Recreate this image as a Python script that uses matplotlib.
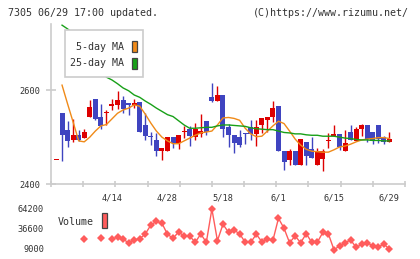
import numpy as np
import matplotlib
matplotlib.use("Agg")
import matplotlib.pyplot as plt
from matplotlib.patches import Rectangle

# ---------------- data ----------------
date_labels = ["4/14", "4/28", "5/18", "6/1", "6/15", "6/29"]
date_index = [10, 20, 30, 40, 50, 60]

opens = [2452, 2551, 2515, 2493, 2504, 2498, 2542, 2581, 2543, 2552,
         2566, 2569, 2579, 2573, 2569, 2574, 2526, 2502, 2494, 2470,
         2470, 2500, 2487, 2510, 2518, 2500, 2507, 2535, 2586, 2577,
         2591, 2522, 2505, 2500, 2508, 2522, 2507, 2526, 2537, 2543,
         2567, 2471, 2452, 2471, 2441, 2489, 2475, 2441, 2453, 2492,
         2502, 2507, 2471, 2511, 2491, 2517, 2525, 2511, 2525, 2500,
         2489]
highs = [2452, 2551, 2535, 2539, 2515, 2517, 2579, 2581, 2571, 2558,
         2582, 2598, 2587, 2573, 2581, 2574, 2551, 2512, 2509, 2477,
         2500, 2500, 2504, 2524, 2524, 2530, 2549, 2535, 2615, 2610,
         2591, 2529, 2505, 2516, 2508, 2537, 2537, 2541, 2543, 2578,
         2567, 2471, 2475, 2471, 2496, 2489, 2500, 2477, 2475, 2509,
         2526, 2507, 2516, 2525, 2521, 2528, 2525, 2511, 2525, 2503,
         2511]
lows = [2452, 2450, 2480, 2489, 2491, 2498, 2542, 2537, 2518, 2525,
        2558, 2560, 2551, 2548, 2562, 2512, 2494, 2484, 2460, 2451,
        2470, 2477, 2475, 2498, 2482, 2494, 2500, 2505, 2574, 2577,
        2501, 2480, 2466, 2480, 2486, 2494, 2482, 2509, 2512, 2532,
        2470, 2430, 2441, 2441, 2441, 2441, 2455, 2441, 2428, 2477,
        2502, 2472, 2471, 2494, 2491, 2503, 2489, 2486, 2487, 2485,
        2489]
closes = [2452, 2505, 2491, 2504, 2493, 2512, 2564, 2539, 2523, 2554,
          2571, 2579, 2560, 2569, 2573, 2512, 2502, 2500, 2470, 2477,
          2500, 2487, 2504, 2514, 2503, 2518, 2514, 2510, 2578, 2590,
          2517, 2505, 2487, 2484, 2506, 2507, 2522, 2541, 2543, 2562,
          2470, 2448, 2471, 2441, 2496, 2459, 2455, 2470, 2470, 2493,
          2507, 2478, 2487, 2494, 2517, 2525, 2496, 2491, 2496, 2489,
          2496]
ma5 = [np.nan, 2611, 2571, 2532, 2492, 2490, 2500, 2513, 2524, 2527,
       2539, 2551, 2558, 2562, 2569, 2566, 2549, 2530, 2513, 2500,
       2492, 2486, 2486, 2492, 2498, 2504, 2509, 2511, 2513, 2526,
       2541, 2542, 2540, 2536, 2519, 2507, 2501, 2502, 2513, 2524,
       2534, 2529, 2513, 2496, 2483, 2474, 2470, 2469, 2468, 2468,
       2473, 2479, 2481, 2485, 2490, 2494, 2496, 2497, 2499, 2499,
       2497]
ma25 = [np.nan, 2739, 2731, 2722, 2705, 2688, 2673, 2656, 2641, 2628,
        2622, 2614, 2605, 2599, 2590, 2585, 2577, 2570, 2562, 2555,
        2548, 2544, 2535, 2526, 2519, 2519, 2520, 2521, 2521, 2524,
        2526, 2526, 2525, 2524, 2523, 2520, 2518, 2517, 2516, 2516,
        2513, 2510, 2509, 2507, 2507, 2505, 2504, 2504, 2502, 2502,
        2502, 2500, 2498, 2497, 2495, 2494, 2494, 2493, 2493, 2492,
        2492]
volume = [np.nan, np.nan, np.nan, np.nan, np.nan, 23200, np.nan, np.nan, 24600, np.nan,
          22400, 25600, 22400, 17700, 21400, 23200, 29700, 42100, 47200, 44500,
          29300, 23800, 32500, 26900, 26900, 18200, 29700, 18200, 64200, 20500,
          43100, 32000, 34800, 30100, 18200, 18200, 29300, 19100, 22400, 21000,
          51400, 37600, 17700, 26900, 17700, 30100, 18200, 18200, 32000, 29700,
          8000, 13100, 17700, 21400, 11300, 15500, 17700, 13100, 11800, 15900,
          8600]
price_ticks = [2400, 2600]
volume_ticks = [9000, 36600, 64200]

# ---------------- style ----------------
RED = "#dd0000"
BLUE = "#3f44c0"
ORANGE = "#f08a18"
GREEN = "#18a018"
VOLC = "#ff5c5c"
GRID = "#cccccc"
TXT = "#333333"
MONO = "DejaVu Sans Mono"

W, H = 420, 259
fig = plt.figure(figsize=(W / 100, H / 100), dpi=100)


def rect(x0, y0, x1, y1):
    return [x0 / W, 1 - y1 / H, (x1 - x0) / W, (y1 - y0) / H]


ax = fig.add_axes(rect(51, 24, 405, 184))
axv = fig.add_axes(rect(51, 203, 405, 255))

x = np.arange(len(opens))
o = np.array(opens, float)
c = np.array(closes, float)
h = np.array(highs, float)
l = np.array(lows, float)
cols = np.where(c >= o, RED, BLUE)

ax.vlines(x, l, h, colors=cols, linewidth=1.0, zorder=2)
diff = np.abs(c - o)
bh = np.maximum(diff, 2.2)
bb = np.minimum(o, c) - (bh - diff) / 2
ax.bar(x, bh, bottom=bb, width=0.9, color=cols, linewidth=0, zorder=3)
ax.plot(x, ma5, color=ORANGE, lw=1.0, zorder=4)
ax.plot(x, ma25, color=GREEN, lw=1.0, zorder=4)

x0, x1 = -0.99, 62.8
ax.set_xlim(x0, x1)
ax.set_ylim(2400, 2741.5)
for s in ["top", "right"]:
    ax.spines[s].set_visible(False)
for s in ["left", "bottom"]:
    ax.spines[s].set_color(GRID)
    ax.spines[s].set_linewidth(1.2)
ax.set_facecolor("none")

ax.set_xticks(np.linspace(x0, x1, 12))
ax.set_xticklabels([])
ax.set_xticks(date_index, minor=True)
ax.set_xticklabels(date_labels, minor=True, fontsize=6.2, family=MONO, color=TXT)
ax.tick_params(axis="x", which="major", direction="inout", length=5, width=1.2, color=GRID)
ax.tick_params(axis="x", which="minor", length=0, pad=7)
ax.set_yticks(price_ticks)
ax.set_yticklabels([str(v) for v in price_ticks], fontsize=6.2, family=MONO, color=TXT)
ax.tick_params(axis="y", direction="inout", length=7, width=1.2, color=GRID, pad=4)

axv.plot(x, volume, color=VOLC, lw=1.0, marker="D", markersize=4.2,
         markeredgewidth=0, markerfacecolor=VOLC)
axv.set_xlim(x0, x1)
axv.set_ylim(720, 72480)
for s in axv.spines.values():
    s.set_visible(False)
axv.set_xticks([])
axv.set_yticks(volume_ticks)
axv.set_yticklabels([str(v) for v in volume_ticks], fontsize=6.2, family=MONO, color=TXT)
axv.tick_params(axis="y", length=0, pad=5)
axv.set_facecolor("none")

# ---------------- overlay texts / legend ----------------
ov = fig.add_axes([0, 0, 1, 1])
ov.set_xlim(0, W)
ov.set_ylim(H, 0)
ov.axis("off")
ov.text(8, 13, "7305 06/29 17:00 updated.", fontsize=7.2, family=MONO, color=TXT, va="center")
ov.text(409, 13, "(C)https://www.rizumu.net/", fontsize=7.2, family=MONO, color=TXT,
        va="center", ha="right")
ov.add_patch(Rectangle((65.3, 30), 78, 47.3, facecolor="white", edgecolor=GRID, lw=1.2, zorder=5))
ov.text(124.3, 46.5, "5-day MA", fontsize=7.2, family=MONO, color=TXT, ha="right", va="center", zorder=6)
ov.text(124.3, 63.3, "25-day MA", fontsize=7.2, family=MONO, color=TXT, ha="right", va="center", zorder=6)
ov.add_patch(Rectangle((131.7, 40.7), 5.6, 11.6, facecolor=ORANGE, edgecolor="#444444", lw=0.9, zorder=6))
ov.add_patch(Rectangle((131.7, 57.5), 5.6, 11.6, facecolor=GREEN, edgecolor="#444444", lw=0.9, zorder=6))
ov.text(94, 222, "Volume", fontsize=7.2, family=MONO, color=TXT, ha="right", va="center")
ov.add_patch(Rectangle((101.7, 213), 5.6, 15, facecolor=VOLC, edgecolor="#444444", lw=0.9))

fig.savefig("out.png", dpi=100)
